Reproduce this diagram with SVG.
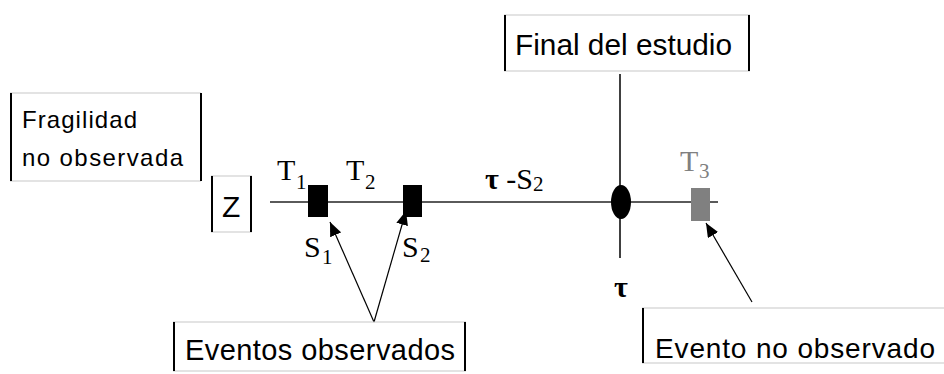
<svg xmlns="http://www.w3.org/2000/svg" width="944" height="374" viewBox="0 0 944 374">
<defs>
<style>
.box-tb{stroke:#c8c8c8;stroke-width:1.2}
.box-lr{stroke:#000;stroke-width:2}
.sans{font-family:"Liberation Sans",Arial,sans-serif;fill:#000}
.serif{font-family:"Liberation Serif","Times New Roman",serif;font-size:30px;fill:#000}
.sub{font-size:21px}
.arrow{stroke:#000;stroke-width:1.2;fill:none;marker-end:url(#ah)}
</style>
<marker id="ah" markerUnits="userSpaceOnUse" markerWidth="16" markerHeight="12" refX="14" refY="6" orient="auto">
<path d="M0,0 L14,6 L0,12 Z" fill="#000"/>
</marker>
</defs>
<rect width="944" height="374" fill="#fff"/>

<g id="connectors">
<line x1="270" y1="202" x2="718" y2="202" stroke="#5a5a5a" stroke-width="2"/>
<line x1="620" y1="74" x2="620" y2="258" stroke="#000" stroke-width="1.5"/>
<line class="arrow" x1="374" y1="322" x2="330" y2="222"/>
<line class="arrow" x1="374" y1="322" x2="406" y2="211"/>
<line class="arrow" x1="752" y1="302" x2="706" y2="223"/>
</g>

<g id="fragilidad">
<line class="box-tb" x1="10" y1="93" x2="201" y2="93"/>
<line class="box-tb" x1="10" y1="181" x2="201" y2="181"/>
<line class="box-lr" x1="11" y1="93" x2="11" y2="181"/>
<line class="box-lr" x1="201" y1="93" x2="201" y2="181"/>
<text class="sans" x="22" y="128" font-size="24" textLength="115" lengthAdjust="spacing">Fragilidad</text>
<text class="sans" x="22" y="166" font-size="24" textLength="161" lengthAdjust="spacing">no observada</text>
</g>

<g id="z">
<line class="box-tb" x1="211" y1="176" x2="252" y2="176"/>
<line class="box-tb" x1="211" y1="232" x2="252" y2="232"/>
<line class="box-lr" x1="212" y1="176" x2="212" y2="232"/>
<line class="box-lr" x1="251" y1="176" x2="251" y2="232"/>
<text class="sans" x="222" y="217" font-size="30">Z</text>
</g>

<g id="final">
<line class="box-tb" x1="504" y1="15" x2="750" y2="15"/>
<line class="box-tb" x1="504" y1="71" x2="750" y2="71"/>
<line class="box-lr" x1="505" y1="15" x2="505" y2="71"/>
<line class="box-lr" x1="749" y1="15" x2="749" y2="71"/>
<text class="sans" x="515" y="55" font-size="30" textLength="217" lengthAdjust="spacingAndGlyphs">Final del estudio</text>
</g>

<g id="eventos-observados">
<line class="box-tb" x1="173" y1="322" x2="466" y2="322"/>
<line class="box-tb" x1="173" y1="371" x2="466" y2="371"/>
<line class="box-lr" x1="174" y1="322" x2="174" y2="371"/>
<line class="box-lr" x1="465" y1="322" x2="465" y2="371"/>
<text class="sans" x="185" y="360" font-size="29" textLength="270" lengthAdjust="spacing">Eventos observados</text>
</g>

<g id="evento-no-observado">
<line class="box-tb" x1="642" y1="308" x2="944" y2="308"/>
<line class="box-tb" x1="642" y1="363" x2="944" y2="363"/>
<line class="box-lr" x1="643" y1="308" x2="643" y2="363"/>
<text class="sans" x="655" y="358" font-size="28" textLength="280" lengthAdjust="spacing">Evento no observado</text>
</g>

<g id="s1">
<rect x="308" y="185" width="20" height="32" fill="#000"/>
<text class="serif" x="277" y="180">T<tspan class="sub" x="296" y="189">1</tspan></text>
<text class="serif" x="304" y="257">S<tspan class="sub" x="322" y="264">1</tspan></text>
</g>

<g id="s2">
<rect x="403" y="185" width="19" height="32" fill="#000"/>
<text class="serif" x="346" y="180">T<tspan class="sub" x="365" y="189">2</tspan></text>
<text class="serif" x="402" y="257">S<tspan class="sub" x="420" y="262">2</tspan></text>
<text class="serif" x="485" y="189"><tspan font-weight="bold">τ</tspan> -S<tspan class="sub" x="533" y="191">2</tspan></text>
</g>

<g id="tau">
<ellipse cx="621" cy="202" rx="10" ry="17" fill="#000"/>
<text class="serif" x="614" y="297" font-weight="bold" font-size="28">τ</text>
</g>

<g id="t3">
<rect x="691" y="188" width="19" height="33" fill="#808080"/>
<text class="serif" x="680" y="171" style="fill:#808080">T<tspan class="sub" x="699" y="178">3</tspan></text>
</g>
</svg>
